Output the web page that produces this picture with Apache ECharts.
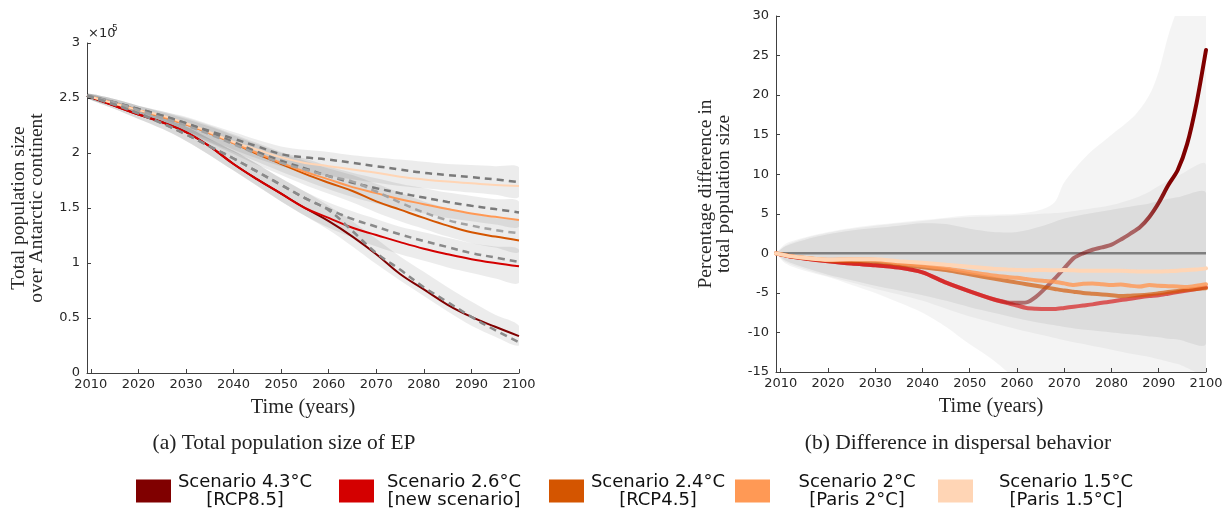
<!DOCTYPE html>
<html>
<head>
<meta charset="utf-8">
<script src="https://cdn.jsdelivr.net/npm/echarts@6/dist/echarts.min.js"></script>
<style>html,body{margin:0;padding:0;background:#fff;}#c{width:1226px;height:512px;}</style>
</head>
<body>
<div id="c"></div>
<script>
// ---------- DATA ----------
const scenarioNames = ['Scenario 4.3°C', 'Scenario 2.6°C', 'Scenario 2.4°C', 'Scenario 2°C', 'Scenario 1.5°C'];
const scenarioTags = ['[RCP8.5]', '[new scenario]', '[RCP4.5]', '[Paris 2°C]', '[Paris 1.5°C]'];
const xTicks = [2010, 2020, 2030, 2040, 2050, 2060, 2070, 2080, 2090, 2100];
const yTicksA = [0, 0.5, 1, 1.5, 2, 2.5, 3];          // ×10^5
const yTicksB = [-15, -10, -5, 0, 5, 10, 15, 20, 25, 30];

// (a) total population size, in units of 10^5
const yearsA = [2009.2, 2015, 2020, 2025, 2030, 2035, 2040, 2045, 2050, 2055, 2060, 2065, 2070, 2075, 2080, 2085, 2090, 2095, 2100];
const popS43 = [2.52, 2.43, 2.35, 2.28, 2.19, 2.06, 1.90, 1.76, 1.63, 1.50, 1.38, 1.24, 1.08, 0.90, 0.76, 0.62, 0.51, 0.42, 0.335];
const popS26 = [2.52, 2.43, 2.35, 2.28, 2.19, 2.06, 1.90, 1.76, 1.63, 1.50, 1.41, 1.32, 1.255, 1.19, 1.13, 1.08, 1.035, 1.00, 0.97];
const popS24 = [2.52, 2.45, 2.39, 2.33, 2.26, 2.18, 2.09, 1.99, 1.90, 1.81, 1.73, 1.655, 1.56, 1.485, 1.41, 1.34, 1.28, 1.24, 1.205];
const popS20 = [2.52, 2.45, 2.39, 2.33, 2.26, 2.18, 2.09, 2.00, 1.91, 1.83, 1.76, 1.69, 1.635, 1.58, 1.535, 1.49, 1.45, 1.42, 1.39];
const popS15 = [2.52, 2.45, 2.39, 2.34, 2.27, 2.19, 2.10, 2.03, 1.96, 1.91, 1.88, 1.85, 1.82, 1.785, 1.76, 1.74, 1.725, 1.71, 1.70];
// dashed reference curves
const refS15 = [2.52, 2.46, 2.40, 2.34, 2.27, 2.20, 2.13, 2.06, 1.99, 1.96, 1.94, 1.91, 1.88, 1.85, 1.82, 1.80, 1.78, 1.76, 1.735];
const refS20 = [2.52, 2.46, 2.40, 2.34, 2.27, 2.19, 2.10, 2.01, 1.93, 1.86, 1.79, 1.73, 1.68, 1.635, 1.595, 1.555, 1.52, 1.49, 1.46];
const refS24 = [2.52, 2.46, 2.39, 2.32, 2.25, 2.17, 2.08, 1.99, 1.91, 1.85, 1.79, 1.74, 1.65, 1.55, 1.46, 1.39, 1.34, 1.30, 1.27];
const refS26 = [2.52, 2.44, 2.36, 2.27, 2.17, 2.06, 1.95, 1.83, 1.71, 1.59, 1.49, 1.40, 1.33, 1.26, 1.20, 1.145, 1.09, 1.05, 1.01];
const refS43 = [2.52, 2.44, 2.36, 2.27, 2.17, 2.06, 1.95, 1.83, 1.71, 1.59, 1.48, 1.29, 1.09, 0.94, 0.78, 0.645, 0.51, 0.39, 0.28];
// uncertainty bands (lower / upper)
const bandLoS15 = [2.50, 2.42, 2.35, 2.28, 2.20, 2.12, 2.03, 1.95, 1.88, 1.83, 1.79, 1.76, 1.73, 1.70, 1.68, 1.66, 1.64, 1.62, 1.60];
const bandHiS15 = [2.54, 2.49, 2.43, 2.38, 2.33, 2.26, 2.19, 2.12, 2.06, 2.03, 2.01, 1.98, 1.96, 1.94, 1.92, 1.90, 1.89, 1.88, 1.87];
const bandLoS20 = [2.50, 2.42, 2.35, 2.27, 2.19, 2.10, 2.01, 1.92, 1.83, 1.75, 1.67, 1.60, 1.54, 1.49, 1.45, 1.41, 1.38, 1.35, 1.33];
const bandHiS20 = [2.54, 2.49, 2.43, 2.38, 2.32, 2.25, 2.17, 2.09, 2.01, 1.95, 1.88, 1.82, 1.77, 1.72, 1.68, 1.64, 1.61, 1.58, 1.56];
const bandLoS24 = [2.50, 2.42, 2.34, 2.26, 2.18, 2.09, 1.99, 1.89, 1.80, 1.71, 1.63, 1.55, 1.46, 1.38, 1.31, 1.24, 1.18, 1.14, 1.10];
const bandHiS24 = [2.54, 2.49, 2.43, 2.37, 2.31, 2.24, 2.16, 2.08, 2.00, 1.93, 1.86, 1.80, 1.72, 1.64, 1.56, 1.50, 1.45, 1.41, 1.38];
const bandLoS26 = [2.50, 2.40, 2.31, 2.22, 2.11, 1.98, 1.84, 1.70, 1.56, 1.43, 1.32, 1.23, 1.15, 1.08, 1.02, 0.96, 0.91, 0.86, 0.82];
const bandHiS26 = [2.54, 2.47, 2.40, 2.32, 2.24, 2.13, 2.02, 1.90, 1.77, 1.65, 1.55, 1.47, 1.40, 1.33, 1.28, 1.23, 1.18, 1.15, 1.12];
const bandLoS43 = [2.50, 2.40, 2.31, 2.22, 2.11, 1.98, 1.84, 1.70, 1.56, 1.43, 1.30, 1.15, 0.99, 0.84, 0.70, 0.56, 0.43, 0.33, 0.25];
const bandHiS43 = [2.54, 2.47, 2.40, 2.32, 2.24, 2.13, 2.02, 1.90, 1.77, 1.65, 1.52, 1.38, 1.22, 1.06, 0.92, 0.78, 0.65, 0.53, 0.43];

// (b) percentage difference in total population size
const yearsB = [2009, 2012, 2015, 2020, 2025, 2030, 2035, 2040, 2045, 2050, 2055, 2058, 2060, 2062, 2064, 2066, 2068, 2070, 2072, 2074, 2076, 2078, 2080, 2082, 2084, 2086, 2088, 2090, 2092, 2094, 2096, 2098, 2100];
const difS43 = [0, -0.4, -0.65, -1.0, -1.3, -1.5, -1.8, -2.4, -3.7, -4.8, -5.8, -6.2, -6.25, -6.2, -5.5, -4.4, -3.2, -1.9, -0.6, 0.0, 0.45, 0.75, 1.1, 1.75, 2.5, 3.3, 4.6, 6.4, 8.6, 10.5, 13.8, 19.0, 25.7];
const difS26 = [0, -0.4, -0.65, -1.0, -1.3, -1.5, -1.8, -2.4, -3.7, -4.8, -5.8, -6.3, -6.6, -6.9, -7.0, -7.05, -7.05, -6.9, -6.75, -6.6, -6.45, -6.25, -6.1, -5.9, -5.75, -5.55, -5.4, -5.3, -5.1, -4.9, -4.7, -4.5, -4.3];
const difS24 = [0, -0.35, -0.6, -0.9, -1.0, -1.05, -1.4, -1.75, -2.1, -2.65, -3.2, -3.5, -3.7, -3.9, -4.1, -4.3, -4.5, -4.7, -4.85, -5.0, -5.1, -5.2, -5.3, -5.4, -5.35, -5.3, -5.2, -5.05, -4.9, -4.75, -4.6, -4.5, -4.4];
const difS20 = [0, -0.35, -0.55, -0.8, -0.75, -0.8, -1.2, -1.55, -1.9, -2.35, -2.8, -3.0, -3.1, -3.25, -3.4, -3.5, -3.6, -3.8, -4.0, -3.85, -3.8, -3.9, -4.0, -3.95, -4.1, -4.2, -4.0, -4.1, -4.15, -4.2, -4.25, -4.1, -3.9];
const difS15 = [0, -0.35, -0.55, -0.8, -0.75, -0.75, -1.0, -1.2, -1.45, -1.7, -1.95, -2.05, -2.1, -2.15, -2.1, -2.1, -2.15, -2.1, -2.15, -2.2, -2.2, -2.2, -2.2, -2.2, -2.25, -2.3, -2.3, -2.3, -2.25, -2.2, -2.1, -2.05, -1.9];
const zeroX = [2009, 2100];
const zeroY = [0, 0];
// envelopes of panel (b)
const envYears = [2009, 2011, 2015, 2020, 2025, 2030, 2035, 2040, 2045, 2050, 2055, 2060, 2065, 2068, 2070, 2075, 2080, 2085, 2088, 2090, 2092, 2094, 2100];
const env1Hi = [0, 1.2, 2.0, 2.7, 3.2, 3.6, 3.9, 4.2, 4.5, 4.8, 4.9, 5.0, 5.5, 6.5, 9, 12.5, 15, 17.5, 20, 23, 27.5, 31, 40];
const env1Lo = [0, -1.3, -2.2, -3.0, -4.0, -5.0, -6.2, -7.5, -9.3, -11.5, -13.5, -16, -18, -18.5, -19, -20, -20, -20, -20, -20, -20, -20, -20];
const env2Hi = [0, 1.0, 1.9, 2.6, 3.1, 3.5, 3.8, 4.1, 4.4, 4.6, 4.7, 4.8, 5.0, 5.1, 5.2, 5.6, 6.1, 7.0, 7.8, 8.5, 9.2, 9.8, 11.2];
const env2Lo = [0, -1.1, -2.0, -2.9, -3.7, -4.5, -5.2, -6.0, -7.0, -8.0, -8.8, -9.6, -10.3, -10.7, -11.0, -11.6, -12.2, -12.8, -13.1, -13.4, -13.7, -14.0, -15.0];
const env3Hi = [0, 0.9, 1.7, 2.4, 2.9, 3.2, 3.5, 3.8, 3.7, 3.1, 2.7, 2.7, 3.4, 4.0, 4.4, 5.0, 5.5, 6.0, 6.3, 6.6, 6.9, 7.1, 7.6];
const env3Lo = [0, -0.9, -1.8, -2.7, -3.4, -4.1, -4.7, -5.3, -6.0, -6.8, -7.5, -8.2, -8.8, -9.1, -9.3, -9.7, -10.0, -10.3, -10.5, -10.6, -10.8, -10.9, -11.4];

// ---------- STYLE ----------
const colors = ['#800000', '#d40000', '#d45500', '#ff9955', '#ffd5b5'];
const serif = '"Liberation Serif", "DejaVu Serif", serif';
const sans = '"DejaVu Sans", sans-serif';
const axisColor = '#404040';
const labelColor = '#262626';

function zip(xs, ys) { return xs.map((x, i) => [x, ys[i]]); }

function band(xs, lo, hi, fill, gi) {
  return {
    type: 'custom', xAxisIndex: gi, yAxisIndex: gi, clip: true, silent: true, z: 1,
    data: [[xs[0], lo[0]]],
    renderItem: function (params, api) {
      const pts = [];
      for (let i = 0; i < xs.length; i++) pts.push(api.coord([xs[i], hi[i]]));
      for (let i = xs.length - 1; i >= 0; i--) pts.push(api.coord([xs[i], lo[i]]));
      return { type: 'polygon', shape: { points: pts, smooth: 0.3 }, style: { fill: fill } };
    }
  };
}

function solidA(idx, vals) {
  return { name: scenarioNames[idx], type: 'line', xAxisIndex: 0, yAxisIndex: 0, data: zip(yearsA, vals),
    showSymbol: false, smooth: 0.4, z: 3, lineStyle: { color: colors[idx], width: 2 }, itemStyle: { color: colors[idx] } };
}
function dashA(vals, col) {
  return { type: 'line', xAxisIndex: 0, yAxisIndex: 0, data: zip(yearsA, vals), showSymbol: false, smooth: 0.4, z: 4, silent: true,
    lineStyle: { color: col, width: 2.5, type: [7, 5] } };
}
function lineB(idx, vals, col) {
  return { name: scenarioNames[idx], type: 'line', xAxisIndex: 1, yAxisIndex: 1, data: zip(yearsB, vals),
    showSymbol: false, smooth: 0.25, z: 3, lineStyle: { color: col, width: 4, cap: 'round' }, itemStyle: { color: colors[idx] } };
}

const grad43 = new echarts.graphic.LinearGradient(0, 0, 1, 0, [
  { offset: 0, color: 'rgba(215,0,0,0.6)' },
  { offset: 0.52, color: 'rgba(210,20,20,0.6)' },
  { offset: 0.57, color: 'rgba(128,0,0,0.5)' },
  { offset: 0.83, color: 'rgba(128,0,0,0.55)' },
  { offset: 0.91, color: 'rgba(128,0,0,1)' },
  { offset: 1, color: 'rgba(128,0,0,1)' }
]);

const bandFill = 'rgba(0,0,0,0.075)';
const series = [
  band(yearsA, bandLoS15, bandHiS15, bandFill, 0),
  band(yearsA, bandLoS20, bandHiS20, bandFill, 0),
  band(yearsA, bandLoS24, bandHiS24, bandFill, 0),
  band(yearsA, bandLoS26, bandHiS26, bandFill, 0),
  band(yearsA, bandLoS43, bandHiS43, bandFill, 0),
  solidA(0, popS43), solidA(1, popS26), solidA(2, popS24), solidA(3, popS20), solidA(4, popS15),
  dashA(refS15, '#7a7a7a'), dashA(refS20, '#7a7a7a'), dashA(refS24, '#a3a3a3'), dashA(refS26, '#8a8a8a'), dashA(refS43, '#8a8a8a'),
  band(envYears, env1Lo, env1Hi, 'rgba(0,0,0,0.045)', 1),
  band(envYears, env2Lo, env2Hi, 'rgba(0,0,0,0.04)', 1),
  band(envYears, env3Lo, env3Hi, 'rgba(0,0,0,0.06)', 1),
  { type: 'line', xAxisIndex: 1, yAxisIndex: 1, data: zip(zeroX, zeroY), showSymbol: false, silent: true, z: 2,
    lineStyle: { color: '#7f7f7f', width: 2.5 } },
  lineB(1, difS26, 'rgba(215,0,0,0.6)'),
  lineB(0, difS43, grad43),
  lineB(2, difS24, 'rgba(212,85,0,0.67)'),
  lineB(3, difS20, 'rgba(255,153,85,0.82)'),
  lineB(4, difS15, 'rgba(255,213,181,1)')
];

function xAxisCfg(gi, min) {
  return {
    gridIndex: gi, type: 'value', min: min, max: 2100,
    axisLine: { onZero: false, lineStyle: { color: axisColor, width: 1 } },
    axisTick: { customValues: xTicks, inside: true, length: 4, lineStyle: { color: axisColor } },
    axisLabel: { customValues: xTicks, margin: 5, color: labelColor, fontFamily: sans, fontSize: 13, formatter: v => String(v) },
    splitLine: { show: false },
    name: 'Time (years)', nameLocation: 'middle', nameGap: 24,
    nameTextStyle: { fontFamily: serif, fontSize: 20.5, color: labelColor }
  };
}
function yAxisCfg(gi, min, max, interval, name, gap) {
  return {
    gridIndex: gi, type: 'value', min: min, max: max, interval: interval,
    axisLine: { show: true, lineStyle: { color: axisColor, width: 1 } },
    axisTick: { show: true, inside: true, length: 4, lineStyle: { color: axisColor } },
    axisLabel: { margin: 7, color: labelColor, fontFamily: sans, fontSize: 13, formatter: v => String(v) },
    splitLine: { show: false },
    name: name, nameLocation: 'middle', nameGap: gap,
    nameTextStyle: { fontFamily: serif, fontSize: 19.5, color: labelColor, lineHeight: 18 }
  };
}

const legendLefts = [136, 339, 549, 735, 938];
const legendTextW = [138, 150, 138, 164, 176];
const legends = scenarioNames.map((n, i) => ({
  data: [{ name: n, icon: 'rect', itemStyle: { color: colors[i] } }],
  left: legendLefts[i], top: 473, padding: 0, itemWidth: 35, itemHeight: 23,
  selectedMode: false,
  formatter: () => '{t|' + scenarioNames[i] + '}\n{t|' + scenarioTags[i] + '}',
  textStyle: {
    fontFamily: sans, fontSize: 18, color: '#111', lineHeight: 18,
    rich: { t: { width: legendTextW[i], align: 'center', fontFamily: sans, fontSize: 18, lineHeight: 18, color: '#111' } }
  }
}));

const yA = yAxisCfg(0, 0, 3, 0.5, 'Total population size\nover Antarctic continent', 41);
const yB = yAxisCfg(1, -15, 30, 5, 'Percentage difference in\ntotal population size', 43);

const option = {
  animation: false,
  backgroundColor: '#fff',
  grid: [
    { left: 87, top: 43, width: 432, height: 330 },
    { left: 776, top: 16, width: 430, height: 356 }
  ],
  xAxis: [xAxisCfg(0, 2009.2), xAxisCfg(1, 2009)],
  yAxis: [yA, yB],
  legend: legends,
  graphic: [
    { type: 'text', x: 284, y: 443, style: { text: '(a) Total population size of EP', font: '21.5px ' + serif, fill: '#222', textAlign: 'center', textVerticalAlign: 'middle', align: 'center', verticalAlign: 'middle' } },
    { type: 'text', x: 958, y: 443, style: { text: '(b) Difference in dispersal behavior', font: '21.5px ' + serif, fill: '#222', textAlign: 'center', textVerticalAlign: 'middle', align: 'center', verticalAlign: 'middle' } },
    { type: 'text', x: 88, y: 40, style: { text: '×10', font: '13px ' + sans, fill: labelColor, textAlign: 'left', textVerticalAlign: 'bottom', align: 'left', verticalAlign: 'bottom' } },
    { type: 'text', x: 112, y: 33, style: { text: '5', font: '9px ' + sans, fill: labelColor, textAlign: 'left', textVerticalAlign: 'bottom', align: 'left', verticalAlign: 'bottom' } }
  ],
  series: series
};

const chart = echarts.init(document.getElementById('c'), null, { renderer: 'canvas' });
chart.setOption(option);
</script>
</body>
</html>
